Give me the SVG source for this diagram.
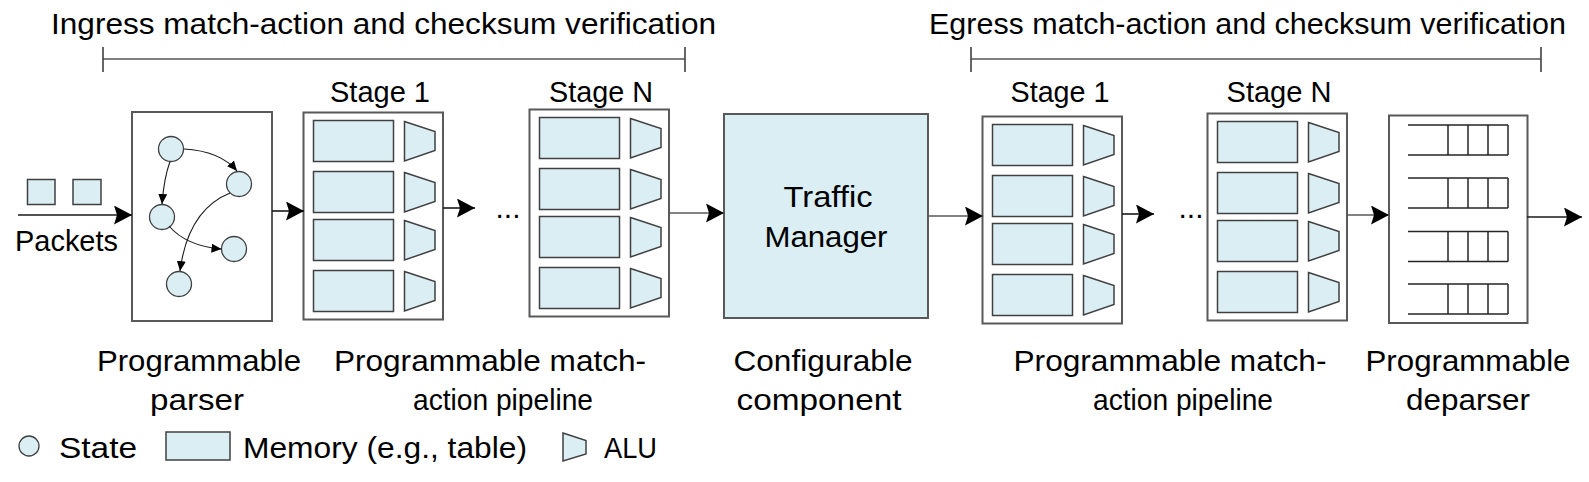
<svg xmlns="http://www.w3.org/2000/svg" xmlns:xlink="http://www.w3.org/1999/xlink" width="1589" height="482" viewBox="0 0 1589 482">
<style>
text{font-family:"Liberation Sans",Arial,sans-serif;font-size:30px;fill:#000}
.box{fill:#fff;stroke:#595959;stroke-width:2}
.mem{fill:#daeef3;stroke:#404040;stroke-width:1.5}
.st{fill:#daeef3;stroke:#404040;stroke-width:1.3}
.q{fill:none;stroke:#262626;stroke-width:1.5}
.arr{fill:none;stroke:#1a1a1a;stroke-width:1.6;marker-end:url(#ah)}
.arrg{fill:none;stroke:#595959;stroke-width:1.6;marker-end:url(#ah)}
.sarr{fill:none;stroke:#1a1a1a;stroke-width:1.1;marker-end:url(#sah)}
.brk{stroke:#808080;stroke-width:2}
.tick{stroke:#404040;stroke-width:1.6}
.mid{text-anchor:middle}
</style>
<defs>
<marker id="ah" markerUnits="userSpaceOnUse" markerWidth="19" markerHeight="20" refX="18" refY="9.5" orient="auto"><path d="M0,0 L18,9.5 L0,19 L3,9.5 Z" fill="#000"/></marker>
<marker id="sah" markerUnits="userSpaceOnUse" markerWidth="11" markerHeight="10" refX="10" refY="4.5" orient="auto"><path d="M0,0 L10,4.5 L0,9 Z" fill="#000"/></marker>
<g id="row"><rect class="mem" x="10" y="0" width="80" height="41"/><polygon class="mem" points="101,1 131.5,11 131.5,30 101,40.5"/></g>
<g id="stage">
<rect class="box" x="0" y="0" width="139.5" height="207"/>
<use xlink:href="#row" href="#row" y="8"/>
<use xlink:href="#row" href="#row" y="59"/>
<use xlink:href="#row" href="#row" y="107"/>
<use xlink:href="#row" href="#row" y="158"/>
</g>
<path id="queue" class="q" d="M19,0 H119 M19,30 H119 M59,0 V30 M79,0 V30 M99,0 V30 M119,0 V30"/>
</defs>

<g id="ingress-title">
<text x="51" y="34" textLength="665" lengthAdjust="spacingAndGlyphs">Ingress match-action and checksum verification</text>
<line class="brk" x1="103" y1="59" x2="685" y2="59"/>
<line class="tick" x1="103" y1="47" x2="103" y2="72"/>
<line class="tick" x1="685" y1="47" x2="685" y2="72"/>
</g>
<g id="egress-title">
<text x="929" y="34" textLength="637" lengthAdjust="spacingAndGlyphs">Egress match-action and checksum verification</text>
<line class="brk" x1="971" y1="59" x2="1541" y2="59"/>
<line class="tick" x1="971" y1="47" x2="971" y2="72"/>
<line class="tick" x1="1541" y1="47" x2="1541" y2="72"/>
</g>

<g id="packets">
<rect class="mem" x="27.5" y="179.5" width="27.5" height="25"/>
<rect class="mem" x="73" y="179.5" width="28" height="25"/>
<text x="15" y="251" textLength="103" lengthAdjust="spacingAndGlyphs">Packets</text>
</g>

<g id="parser">
<rect class="box" x="132" y="112" width="140" height="209"/>
<circle class="st" cx="171" cy="149" r="12.5"/>
<circle class="st" cx="239" cy="184" r="12.5"/>
<circle class="st" cx="162" cy="217" r="12.5"/>
<circle class="st" cx="234" cy="249" r="12.5"/>
<circle class="st" cx="179" cy="284" r="12.5"/>
<path class="sarr" d="M184,149 Q220,151 237,171"/>
<path class="sarr" d="M170,161.5 Q164,178 162,204"/>
<path class="sarr" d="M169,226 Q186,246 221.5,249"/>
<path class="sarr" d="M230,193 Q188,210 180,271"/>
<text class="mid" x="199" y="371" textLength="204" lengthAdjust="spacingAndGlyphs">Programmable</text>
<text class="mid" x="197" y="410" textLength="94" lengthAdjust="spacingAndGlyphs">parser</text>
</g>

<g id="ingress-stage1">
<use xlink:href="#stage" href="#stage" x="303.5" y="112.5"/>
<text class="mid" x="380" y="102" textLength="100" lengthAdjust="spacingAndGlyphs">Stage 1</text>
</g>
<g id="ingress-dots"><text class="mid" x="508" y="218">...</text></g>
<g id="ingress-stageN">
<use xlink:href="#stage" href="#stage" x="529.5" y="109.5"/>
<text class="mid" x="601" y="102" textLength="104" lengthAdjust="spacingAndGlyphs">Stage N</text>
</g>
<g id="ingress-label">
<text class="mid" x="490" y="371" textLength="312" lengthAdjust="spacingAndGlyphs">Programmable match-</text>
<text class="mid" x="503" y="410" textLength="180" lengthAdjust="spacingAndGlyphs">action pipeline</text>
</g>

<g id="traffic-manager">
<rect x="724" y="114" width="204" height="204" fill="#daeef3" stroke="#595959" stroke-width="2"/>
<text class="mid" x="828" y="207" textLength="89" lengthAdjust="spacingAndGlyphs">Traffic</text>
<text class="mid" x="826" y="247" textLength="123" lengthAdjust="spacingAndGlyphs">Manager</text>
<text class="mid" x="823" y="371" textLength="179" lengthAdjust="spacingAndGlyphs">Configurable</text>
<text class="mid" x="819" y="410" textLength="165" lengthAdjust="spacingAndGlyphs">component</text>
</g>

<g id="egress-stage1">
<use xlink:href="#stage" href="#stage" x="982.5" y="116.5"/>
<text class="mid" x="1060" y="102" textLength="99" lengthAdjust="spacingAndGlyphs">Stage 1</text>
</g>
<g id="egress-dots"><text class="mid" x="1191" y="218">...</text></g>
<g id="egress-stageN">
<use xlink:href="#stage" href="#stage" x="1207.5" y="113.5"/>
<text class="mid" x="1279" y="102" textLength="105" lengthAdjust="spacingAndGlyphs">Stage N</text>
</g>
<g id="egress-label">
<text class="mid" x="1170" y="371" textLength="313" lengthAdjust="spacingAndGlyphs">Programmable match-</text>
<text class="mid" x="1183" y="410" textLength="180" lengthAdjust="spacingAndGlyphs">action pipeline</text>
</g>

<g id="deparser">
<rect class="box" x="1389" y="115.5" width="138.5" height="207.5"/>
<use xlink:href="#queue" href="#queue" x="1389" y="125"/>
<use xlink:href="#queue" href="#queue" x="1389" y="178"/>
<use xlink:href="#queue" href="#queue" x="1389" y="231.5"/>
<use xlink:href="#queue" href="#queue" x="1389" y="284"/>
<text class="mid" x="1468" y="371" textLength="205" lengthAdjust="spacingAndGlyphs">Programmable</text>
<text class="mid" x="1468" y="410" textLength="124" lengthAdjust="spacingAndGlyphs">deparser</text>
</g>

<g id="connectors">
<line class="arr" x1="18" y1="215" x2="132" y2="215"/>
<line class="arr" x1="272" y1="211" x2="304" y2="211"/>
<line class="arr" x1="443" y1="208" x2="475" y2="208"/>
<line class="arrg" x1="669" y1="213" x2="724" y2="213"/>
<line class="arrg" x1="928" y1="216" x2="983" y2="216"/>
<line class="arr" x1="1122" y1="214" x2="1154" y2="214"/>
<line class="arrg" x1="1347" y1="215" x2="1389" y2="215"/>
<line class="arr" x1="1527" y1="217" x2="1582" y2="217"/>
</g>

<g id="legend">
<circle class="st" cx="29" cy="446" r="10"/>
<text x="59" y="458" textLength="78" lengthAdjust="spacingAndGlyphs">State</text>
<rect class="mem" x="166" y="432" width="64" height="28"/>
<text x="243" y="458" textLength="284" lengthAdjust="spacingAndGlyphs">Memory (e.g., table)</text>
<polygon class="mem" points="563,433 586,440.5 586,454 563,461"/>
<text x="604" y="458" textLength="53" lengthAdjust="spacingAndGlyphs">ALU</text>
</g>
</svg>
